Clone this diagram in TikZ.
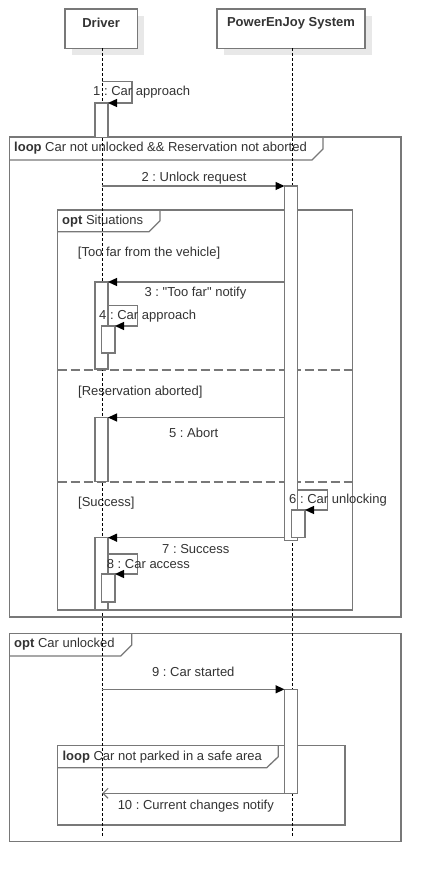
\documentclass[tikz,border=0pt]{standalone}
\usepackage{fontspec}
\setmainfont{Liberation Sans}[Ligatures=TeXOff]
\usetikzlibrary{arrows.meta}
\definecolor{ln}{HTML}{787878}
\definecolor{tx}{HTML}{333333}
\definecolor{shd}{HTML}{E8E8E8}
\frenchspacing
\begin{document}
\begin{tikzpicture}[x=1pt,y=-1pt,
  frm/.style={draw=ln,line width=1.3pt},
  act/.style={draw=ln,fill=white,line width=1.3pt},
  hdr/.style={draw=ln,fill=white,line width=1.3pt,inner sep=0pt},
  msg/.style={draw=ln,line width=1.3pt,-{Triangle[length=9pt,width=8pt,color=black]}},
  rmsg/.style={draw=ln,line width=1.1pt,-{Straight Barb[length=5pt,width=10pt]}},
  life/.style={draw=black,line width=0.8pt,dash pattern=on 3pt off 2pt},
  sep/.style={draw=ln,line width=1.3pt,dash pattern=on 9pt off 4pt},
  lbl/.style={text=tx,font=\fontsize{13}{15}\selectfont,inner sep=0pt},
  blbl/.style={text=tx,font=\fontsize{13}{15}\selectfont\bfseries,inner sep=0pt}]
\useasboundingbox (0,0) rectangle (441,882);
\fill[white] (0,0) rectangle (441,882);
% headers
\fill[shd] (72,16) rectangle (144.3,55.3);
\fill[shd] (224,16) rectangle (372,55.3);
\node[hdr,minimum width=72.3pt,minimum height=39.3pt] (drv) at (101.15,28.65) {};
\node[hdr,minimum width=148pt,minimum height=39.3pt] (sys) at (291,28.65) {};
\node[blbl] (drvt) at (101.15,23) {Driver};
\node[blbl] (syst) at (291,23) {PowerEnJoy System};
% frames
\draw[frm] (9.5,137) rectangle (401,617);
\draw[frm] (9.5,160) -- (312,160) -- (323,149) -- (323,137);
\node[lbl,anchor=west] (f1) at (14,148) {\textbf{loop} Car not unlocked \&\& Reservation not aborted};
\draw[frm] (57.7,210) rectangle (352.7,610);
\draw[frm] (57.7,231.7) -- (149,231.7) -- (160,220.7) -- (160,210);
\node[lbl,anchor=west] (f2) at (62,220.7) {\textbf{opt} Situations};
\draw[sep] (57.7,370) -- (352.7,370);
\draw[sep] (57.7,482) -- (352.7,482);
\draw[frm] (9.5,633.3) rectangle (401,841.7);
\draw[frm] (9.5,656) -- (120.7,656) -- (131.7,645) -- (131.7,633.3);
\node[lbl,anchor=west] (f3) at (14,644.5) {\textbf{opt} Car unlocked};
\draw[frm] (57.7,745.7) rectangle (345,825);
\draw[frm] (57.7,767.7) -- (266.7,767.7) -- (278.3,756.7) -- (278.3,745.7);
\node[lbl,anchor=west] (f4) at (62.3,756.7) {\textbf{loop} Car not parked in a safe area};
% guards
\node[lbl,anchor=west] (g1) at (77.7,253) {[Too far from the vehicle]};
\node[lbl,anchor=west] (g2) at (78,391.7) {[Reservation aborted]};
\node[lbl,anchor=west] (g3) at (78,503) {[Success]};
% lifelines
\coordinate (dl0) at (102.3,48.3);
\coordinate (dl1) at (102.3,838);
\coordinate (sl0) at (292.3,48.3);
\coordinate (sl1) at (292.3,838);
\draw[life] (dl0) -- (dl1);
\draw[life] (sl0) -- (sl1);
% activations
\draw[act] (95,103) rectangle (108,137.5);
\draw[act] (95,282) rectangle (108,369);
\draw[act] (101.7,326) rectangle (115,353);
\draw[act] (95,417.5) rectangle (108,481.7);
\draw[act] (95,537.7) rectangle (108,610);
\draw[act] (101.7,574) rectangle (115,602);
\draw[act] (284.5,186) rectangle (297.7,540.7);
\draw[act] (291.7,510) rectangle (305,537.7);
\draw[act] (284.5,689.3) rectangle (297.7,793.3);
% message end points
\coordinate (m1a) at (102.3,81.7); \coordinate (m1b) at (108,103);
\coordinate (m2a) at (102.3,186);  \coordinate (m2b) at (284.5,186);
\coordinate (m3a) at (284.5,282);  \coordinate (m3b) at (108,282);
\coordinate (m4a) at (108,305.7);  \coordinate (m4b) at (115,326);
\coordinate (m5a) at (284.5,417.5);\coordinate (m5b) at (108,417.5);
\coordinate (m6a) at (297.7,490);  \coordinate (m6b) at (305,510);
\coordinate (m7a) at (284.5,537.7);\coordinate (m7b) at (108,537.7);
\coordinate (m8a) at (108,554);    \coordinate (m8b) at (115,574);
\coordinate (m9a) at (102.3,689.3);\coordinate (m9b) at (284.5,689.3);
\coordinate (m10a) at (284.5,793.3);\coordinate (m10b) at (102.3,793.3);
% messages
\draw[msg] (m1a) -- (132,81.7) -- (132,103) -- (m1b);
\draw[msg] (m2a) -- (m2b);
\draw[msg] (m3a) -- (m3b);
\draw[msg] (m4a) -- (137.7,305.7) -- (137.7,326) -- (m4b);
\draw[msg] (m5a) -- (m5b);
\draw[msg] (m6a) -- (327.7,490) -- (327.7,510) -- (m6b);
\draw[msg] (m7a) -- (m7b);
\draw[msg] (m8a) -- (137.7,554) -- (137.7,574) -- (m8b);
\draw[msg] (m9a) -- (m9b);
\draw[rmsg] (m10a) -- (m10b);
% message labels
\node[lbl,anchor=west] (l1) at (93,92) {1 : Car approach};
\node[lbl] (l2) at (194,178) {2 : Unlock request};
\node[lbl] (l3) at (195.5,293) {3 : "Too far" notify};
\node[lbl,anchor=west] (l4) at (99,316) {4 : Car approach};
\node[lbl] (l5) at (193.7,433) {5 : Abort};
\node[lbl,anchor=west] (l6) at (289,500) {6 : Car unlocking};
\node[lbl] (l7) at (195.8,549) {7 : Success};
\node[lbl,anchor=west] (l8) at (106.7,564) {8 : Car access};
\node[lbl] (l9) at (193.3,671.7) {9 : Car started};
\node[lbl] (l10) at (195.8,806) {10 : Current changes notify};
\end{tikzpicture}
\end{document}
